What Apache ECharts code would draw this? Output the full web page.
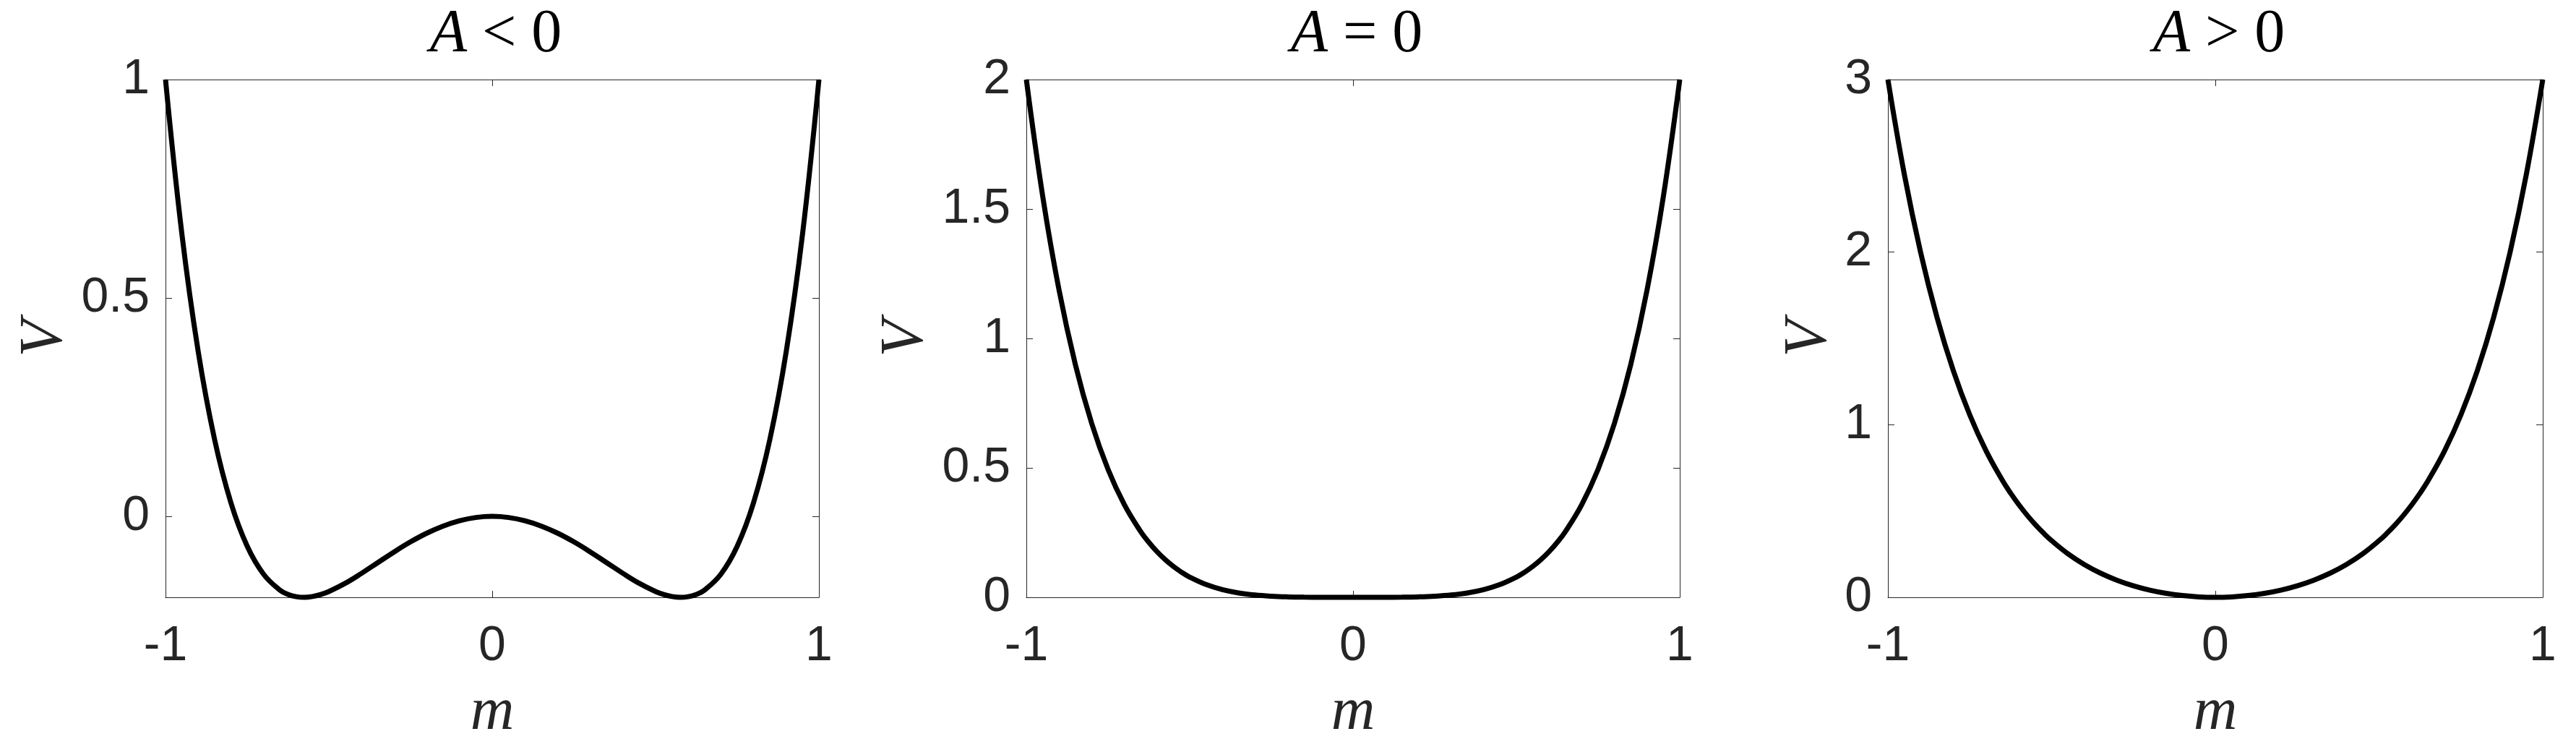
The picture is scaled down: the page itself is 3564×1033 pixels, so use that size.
<!DOCTYPE html>
<html>
<head>
<meta charset="utf-8">
<script src="https://cdn.jsdelivr.net/npm/echarts@6/dist/echarts.min.js"></script>
<style>
  html, body { margin: 0; padding: 0; background: #fff; }
  #chart { width: 3564px; height: 1033px; }
</style>
</head>
<body>
<div id="chart"></div>
<script>
  // magnetisation m (shared by all three panels), denser round the A<0 minima
  var mValues = [-1, -0.95, -0.9, -0.85, -0.8, -0.75, -0.7, -0.65, -0.625, -0.6, -0.575, -0.55, -0.525, -0.5,
    -0.45, -0.4, -0.35, -0.3, -0.25, -0.2, -0.15, -0.1, -0.05, 0,
    0.05, 0.1, 0.15, 0.2, 0.25, 0.3, 0.35, 0.4, 0.45,
    0.5, 0.525, 0.55, 0.575, 0.6, 0.625, 0.65, 0.7, 0.75, 0.8, 0.85, 0.9, 0.95, 1]

  // V
  var vNegative = [1, 0.6471, 0.3775, 0.1767, 0.0317, -0.0681, -0.1322, -0.1686, -0.1784, -0.1837, -0.1852, -0.1833, -0.1787, -0.1719,
    -0.1532, -0.1303, -0.1057, -0.0812, -0.0583, -0.0383, -0.0220, -0.0099, -0.0025, 0,
    -0.0025, -0.0099, -0.0220, -0.0383, -0.0583, -0.0812, -0.1057, -0.1303, -0.1532,
    -0.1719, -0.1787, -0.1833, -0.1852, -0.1837, -0.1784, -0.1686, -0.1322, -0.0681, 0.0317, 0.1767, 0.3775, 0.6471, 1]
  var vZero = [2, 1.5496, 1.1875, 0.8992, 0.6717, 0.4944, 0.3578, 0.2539, 0.2122, 0.1763, 0.1455, 0.1192, 0.0969, 0.0781,
    0.0493, 0.0297, 0.0168, 0.0088, 0.0042, 0.0017, 0.0005, 0.0001, 0.0000, 0,
    0.0000, 0.0001, 0.0005, 0.0017, 0.0042, 0.0088, 0.0168, 0.0297, 0.0493,
    0.0781, 0.0969, 0.1192, 0.1455, 0.1763, 0.2122, 0.2539, 0.3578, 0.4944, 0.6717, 0.8992, 1.1875, 1.5496, 2]
  var vPositive = [3, 2.4521, 1.9975, 1.6217, 1.3117, 1.0569, 0.8478, 0.6764, 0.6028, 0.5363, 0.4761, 0.4217, 0.3725, 0.3281,
    0.2518, 0.1897, 0.1393, 0.0988, 0.0667, 0.0417, 0.0230, 0.0101, 0.0025, 0,
    0.0025, 0.0101, 0.0230, 0.0417, 0.0667, 0.0988, 0.1393, 0.1897, 0.2518,
    0.3281, 0.3725, 0.4217, 0.4761, 0.5363, 0.6028, 0.6764, 0.8478, 1.0569, 1.3117, 1.6217, 1.9975, 2.4521, 3]

  var titleSigns = ['<', '=', '>']
  var xTicks = [-1, 0, 1]
  var yTicks = [[0, 0.5, 1], [0, 0.5, 1, 1.5, 2], [0, 1, 2, 3]]
  var yMin = [-0.1852, 0, 0]
  var yMax = [1, 2, 3]

  var seriesValues = [vNegative, vZero, vPositive]

  var axisColor = '#262626'
  var tickFont = 'Liberation Sans, Arial, Helvetica, sans-serif'
  var mathFont = 'Liberation Serif, Times New Roman, serif'

  var panels = [
    {left: 229, width: 904, yNameGap: 124},
    {left: 1420, width: 904, yNameGap: 124},
    {left: 2612, width: 906, yNameGap: 66}
  ]

  var chart = echarts.init(document.getElementById('chart'))

  var grids = [], xAxes = [], yAxes = [], series = [], titles = []

  panels.forEach(function (p, i) {
    grids.push({left: p.left, top: 110, width: p.width, height: 718, containLabel: false})

    titles.push({
      text: '{i|A} ' + titleSigns[i] + ' 0',
      left: p.left + p.width / 2,
      top: 2,
      textAlign: 'center',
      textStyle: {
        fontFamily: mathFont,
        fontSize: 84,
        fontWeight: 'normal',
        color: '#000',
        rich: {
          i: {fontFamily: mathFont, fontSize: 84, fontStyle: 'italic', color: '#000'}
        }
      }
    })

    var line = {show: true, onZero: false, lineStyle: {color: axisColor, width: 1}}
    var tick = {show: true, inside: true, length: 9, lineStyle: {color: axisColor, width: 1}}

    xAxes.push({
      gridIndex: i,
      type: 'value',
      position: 'bottom',
      min: -1,
      max: 1,
      interval: 1,
      axisLine: line,
      axisTick: tick,
      splitLine: {show: false},
      axisLabel: {
        margin: 34,
        fontSize: 68,
        fontFamily: tickFont,
        color: axisColor,
        customValues: xTicks
      },
      name: 'm',
      nameLocation: 'middle',
      nameGap: 118,
      nameTextStyle: {fontFamily: mathFont, fontStyle: 'italic', fontSize: 84, color: axisColor}
    })
    xAxes.push({
      gridIndex: i,
      type: 'value',
      position: 'top',
      min: -1,
      max: 1,
      interval: 1,
      axisLine: line,
      axisTick: tick,
      splitLine: {show: false},
      axisLabel: {show: false}
    })

    yAxes.push({
      gridIndex: i,
      type: 'value',
      position: 'left',
      min: yMin[i],
      max: yMax[i],
      axisLine: line,
      axisTick: {show: true, inside: true, length: 9, lineStyle: {color: axisColor, width: 1}, customValues: yTicks[i]},
      splitLine: {show: false},
      axisLabel: {
        margin: 22,
        fontSize: 68,
        fontFamily: tickFont,
        color: axisColor,
        customValues: yTicks[i]
      },
      name: 'V',
      nameLocation: 'middle',
      nameGap: p.yNameGap,
      nameTextStyle: {fontFamily: mathFont, fontStyle: 'italic', fontSize: 84, color: axisColor}
    })
    yAxes.push({
      gridIndex: i,
      type: 'value',
      position: 'right',
      min: yMin[i],
      max: yMax[i],
      axisLine: line,
      axisTick: {show: true, inside: true, length: 9, lineStyle: {color: axisColor, width: 1}, customValues: yTicks[i]},
      splitLine: {show: false},
      axisLabel: {show: false}
    })

    series.push({
      type: 'line',
      xAxisIndex: i * 2,
      yAxisIndex: i * 2,
      data: mValues.map(function (m, k) { return [m, seriesValues[i][k]] }),
      showSymbol: false,
      smooth: 0.4,
      clip: false,
      lineStyle: {color: '#000', width: 7},
      animation: false
    })
  })

  chart.setOption({
    backgroundColor: '#fff',
    animation: false,
    title: titles,
    grid: grids,
    xAxis: xAxes,
    yAxis: yAxes,
    series: series
  })
</script>
</body>
</html>
